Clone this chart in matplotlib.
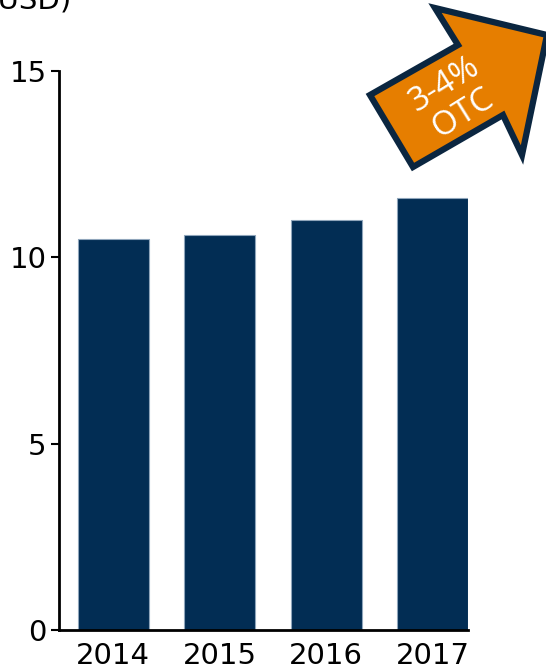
import matplotlib.pyplot as plt
from matplotlib.patches import Polygon
import numpy as np

years = ['2014', '2015', '2016', '2017']
values = [10.5, 10.6, 11.0, 11.6]
yticks = [0, 5, 10, 15]

NAVY = '#022d54'
ORANGE = '#e67e00'

fig = plt.figure(figsize=(5.46, 6.71), dpi=100)
ax = fig.add_axes([59 / 546, 41 / 671, (468 - 59) / 546, 559 / 671])

x = np.arange(len(years))
ax.bar(x, values, width=0.665, color=NAVY, edgecolor='#8fa5bb', linewidth=0.8)

ax.set_xlim(-0.51, 3.33)
ax.set_ylim(0, 15)
ax.set_yticks(yticks)
ax.set_xticks(x)
ax.set_xticklabels(years)

for s in ['top', 'right']:
    ax.spines[s].set_visible(False)
for s in ['left', 'bottom']:
    ax.spines[s].set_linewidth(2)
    ax.spines[s].set_color('black')

ax.tick_params(axis='y', length=6, width=1.5, pad=3, labelsize=21)
ax.tick_params(axis='x', length=0, pad=8.5, labelsize=21)

# cut-off unit label at the top
fig.text(71 / 546, 1 - 8 / 671, '(bn USD)', ha='right', va='baseline', fontsize=21)

# growth arrow (figure pixel coords, y flipped)
pts = [(370, 95), (413, 167), (503, 115), (522, 155), (547, 35), (435, 8), (458, 45)]
pts = [(px / 546, 1 - py / 671) for px, py in pts]
arrow = Polygon(pts, closed=True, facecolor=ORANGE, edgecolor='#0b2640',
                linewidth=4.5, joinstyle='miter', transform=fig.transFigure,
                clip_on=False)
fig.add_artist(arrow)
fig.text(454 / 546, 1 - 99 / 671, '3-4%\nOTC', ha='center', va='center',
         rotation=32, color='white', fontsize=24, family='Open Sans',
         linespacing=1.05, rotation_mode='anchor')

fig.savefig('out.png', dpi=100)
